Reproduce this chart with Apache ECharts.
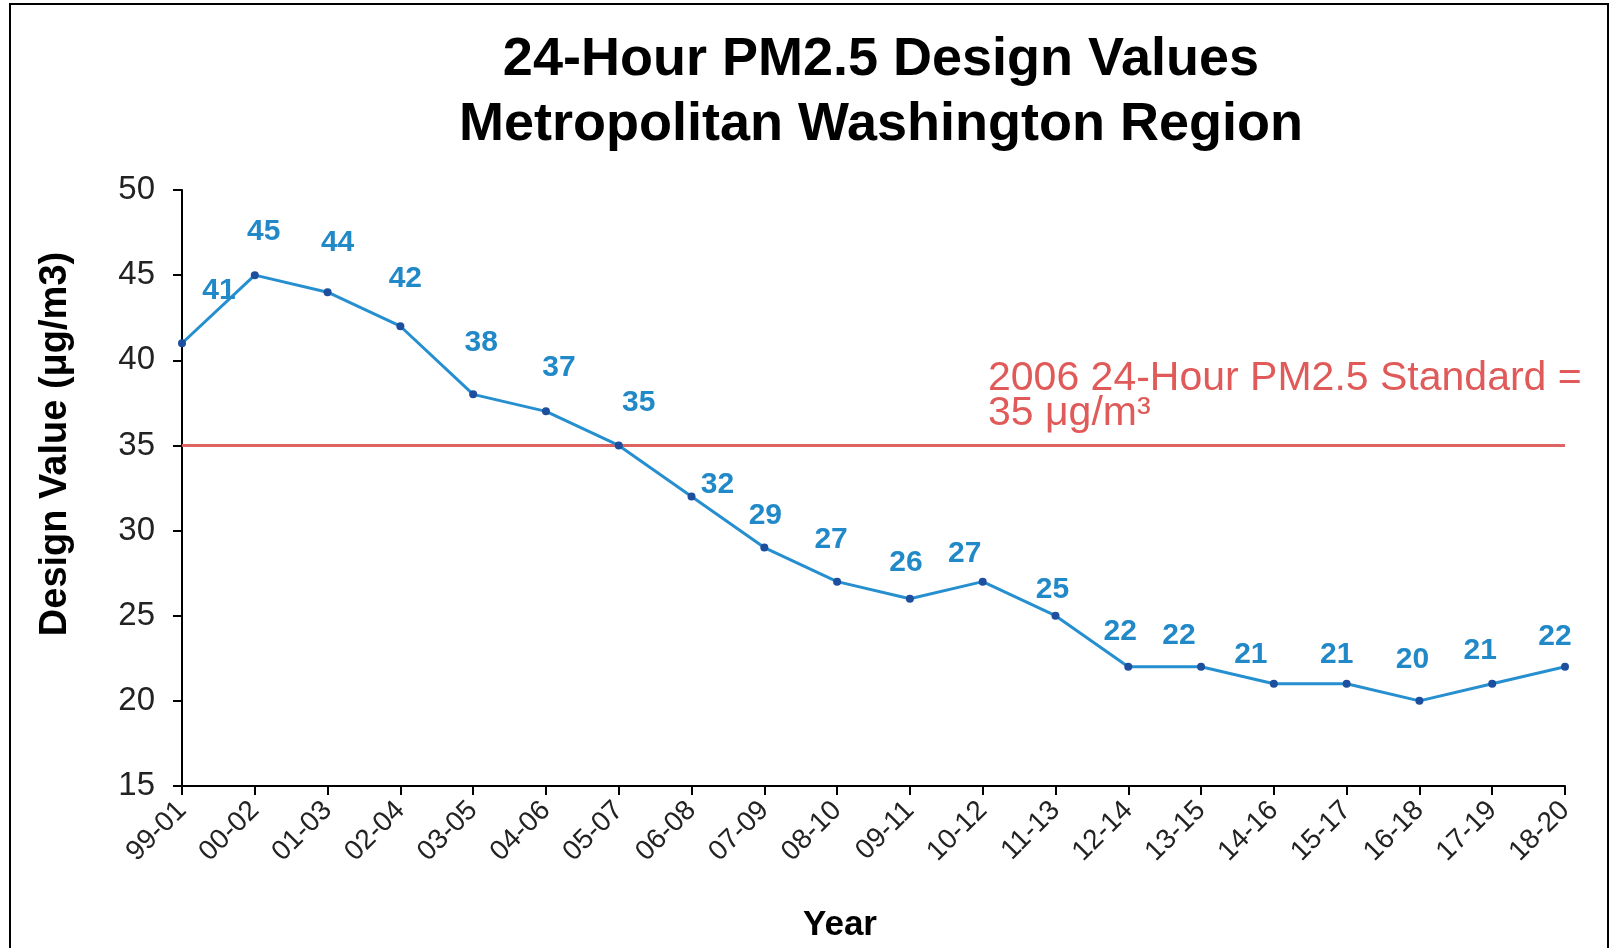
<!DOCTYPE html>
<html>
<head>
<meta charset="utf-8">
<script src="https://cdn.jsdelivr.net/npm/echarts@6/dist/echarts.min.js"></script>
<style>
html,body{margin:0;padding:0;background:#fff;}
#chart{width:1610px;height:948px;}
</style>
</head>
<body>
<div id="chart"></div>
<script>
const categories = ['99-01','00-02','01-03','02-04','03-05','04-06','05-07','06-08','07-09','08-10','09-11','10-12','11-13','12-14','13-15','14-16','15-17','16-18','17-19','18-20'];
const designValues = [41,45,44,42,38,37,35,32,29,27,26,27,25,22,22,21,21,20,21,22];
const standardValue = 35;
const yTicks = { min: 15, max: 50, interval: 5 };
const titleLines = ['24-Hour PM2.5 Design Values', 'Metropolitan Washington Region'];
const standardLabel = ['2006 24-Hour PM2.5 Standard =', '35 μg/m³'];
// label nudges (px) relative to each point, as placed in the original
const labelNudge = [[37,-53],[9,-43],[10,-49],[5,-47],[8,-52],[13,-44],[20,-43],[26,-12],[1,-32],[-6,-42],[-4,-36],[-18,-28],[-3,-26],[-8,-35],[-22,-31],[-23,-29],[-10,-29],[-7,-41],[-12,-33],[-10,-30]];

const chart = echarts.init(document.getElementById('chart'), null, {renderer:'canvas'});
const FONT = '"Liberation Sans", Arial, sans-serif';

const seriesData = designValues.map((v, i) => ({
  value: v,
  label: { offset: labelNudge[i] }
}));

chart.setOption({
  backgroundColor: '#fff',
  animation: false,
  title: {
    text: titleLines.join('\n'),
    left: 876,
    top: 23,
    textAlign: 'center',
    textStyle: { fontFamily: FONT, fontWeight: 'bold', fontSize: 54, lineHeight: 65, color: '#000' }
  },
  graphic: [
    { type: 'rect', shape: { x: 10, y: 4, width: 1598, height: 1000 }, style: { fill: 'none', stroke: '#000', lineWidth: 2 }, silent: true },
    { type: 'text', x: 56, y: 444, rotation: Math.PI / 2,
      style: { text: 'Design Value (μg/m3)', font: 'bold 38px ' + FONT, fill: '#000', textAlign: 'center', textVerticalAlign: 'middle' } }
  ],
  grid: { left: 182, right: 45, top: 190, bottom: 162, containLabel: false, outerBoundsMode: 'none' },
  xAxis: {
    type: 'category',
    data: categories,
    boundaryGap: false,
    name: 'Year',
    nameLocation: 'middle',
    nameGap: 122,
    nameMoveOverlap: false,
    nameTextStyle: { fontFamily: FONT, fontWeight: 'bold', fontSize: 35, color: '#000', padding: [0, 67, 0, 0] },
    axisLine: { lineStyle: { color: '#000', width: 2 } },
    axisTick: { show: true, interval: 0, length: 9, lineStyle: { color: '#000', width: 2 } },
    axisLabel: { interval: 0, rotate: 45, margin: 20, fontFamily: FONT, fontSize: 28, color: '#222' },
    splitLine: { show: false }
  },
  yAxis: {
    type: 'value',
    min: yTicks.min, max: yTicks.max, interval: yTicks.interval,
    axisLine: { show: true, lineStyle: { color: '#000', width: 2 } },
    axisTick: { show: true, length: 9, lineStyle: { color: '#000', width: 2 } },
    axisLabel: { margin: 27, fontFamily: FONT, fontSize: 33, color: '#222' },
    splitLine: { show: false }
  },
  series: [{
    type: 'line',
    data: seriesData,
    symbol: 'circle',
    symbolSize: 8,
    itemStyle: { color: '#1d4f9e' },
    lineStyle: { color: '#268fcf', width: 3 },
    z: 3,
    label: {
      show: true,
      position: 'inside',
      fontFamily: FONT, fontWeight: 'bold', fontSize: 30, color: '#2189c8'
    },
    markLine: {
      silent: true,
      symbol: 'none',
      z: 2,
      lineStyle: { color: '#dd6462', width: 3, type: 'solid' },
      data: [{ yAxis: standardValue }],
      label: {
        show: true,
        position: 'insideEndTop',
        formatter: standardLabel.join('\n'),
        align: 'left',
        offset: [-563, 0],
        distance: 14,
        fontFamily: FONT, fontSize: 41, lineHeight: 35, color: '#e05a59'
      }
    }
  }]
});
</script>
</body>
</html>
